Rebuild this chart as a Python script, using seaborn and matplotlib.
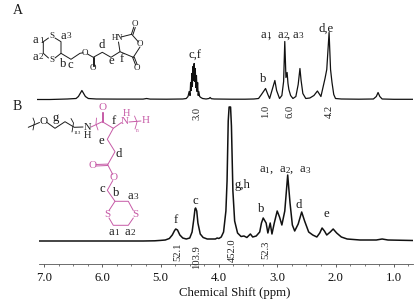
import matplotlib
matplotlib.use("Agg")
import matplotlib.pyplot as plt
from matplotlib.ticker import MultipleLocator, FormatStrFormatter
import seaborn as sns

sns.set_style("white")
plt.rcParams["font.family"] = ["Liberation Serif", "DejaVu Serif"]

# Spectrum A (monomer): chemical shift in ppm, intensity
ppm_a = [7.12, 6.9, 6.6, 6.45, 6.41, 6.38, 6.35, 6.32, 6.29, 6.24, 6.1, 5.75, 5.3, 5.24, 5.18, 4.9, 4.62, 4.56,
         4.53, 4.51, 4.495, 4.485, 4.475, 4.465, 4.455, 4.445, 4.435, 4.425, 4.415, 4.405, 4.395, 4.385, 4.375,
         4.365, 4.355, 4.345, 4.33, 4.31, 4.28, 4.22, 4.17, 4.15, 4.13, 4.08, 3.8, 3.55, 3.4, 3.32, 3.27, 3.2,
         3.16, 3.13, 3.09, 3.07, 3.04, 3.01, 2.96, 2.92, 2.89, 2.87, 2.85, 2.83, 2.815, 2.80, 2.77, 2.73, 2.68,
         2.64, 2.61, 2.59, 2.56, 2.51, 2.44, 2.37, 2.31, 2.25, 2.18, 2.15, 2.11, 2.085, 2.06, 2.03, 2.0, 1.9,
         1.6, 1.35, 1.3, 1.27, 1.24, 1.2, 1.0, 0.67]
int_a = [0, 0, 0.5, 1, 3, 6, 9, 6, 3, 1, 0.5, 0.4, 0.4, 1, 0.4, 0.3, 0.5, 1,
         3, 8, 4, 17, 9, 26, 13, 33, 19, 36, 18, 31, 12, 24, 8, 17, 4, 8, 3, 2, 1, 0.5, 1, 2, 0.8, 0.5, 0.3, 0.3,
         0.5, 1, 5, 11, 5, 1, 9, 13, 19, 9, 1, 4, 18, 58, 22, 27, 16, 10, 4, 1, 3, 15, 31, 19, 6, 1, 1.5, 4, 8.5,
         3, 21, 30, 67, 30, 17, 5, 1, 0.5, 0.3, 0.5, 3, 7, 3, 0.5, 0.2, 0.2]

# Spectrum B (polymer): chemical shift in ppm, intensity
ppm_b = [7.09, 6.0, 5.3, 5.1, 5.0, 4.92, 4.85, 4.80, 4.76, 4.74, 4.71, 4.67, 4.62, 4.56, 4.50, 4.46, 4.43, 4.41,
         4.40, 4.38, 4.36, 4.32, 4.27, 4.2, 4.1, 4.06, 4.03, 4.0, 3.96, 3.92, 3.88, 3.86, 3.84, 3.825, 3.80,
         3.785, 3.76, 3.73, 3.68, 3.62, 3.57, 3.52, 3.46, 3.42, 3.36, 3.30, 3.27, 3.24, 3.22, 3.19, 3.16, 3.12,
         3.09, 3.05, 3.0, 2.96, 2.92, 2.87, 2.82, 2.78, 2.74, 2.70, 2.64, 2.58, 2.53, 2.46, 2.39, 2.32, 2.27,
         2.23, 2.19, 2.15, 2.09, 2.04, 1.98, 1.9, 1.80, 1.58, 1.3, 1.2, 1.1, 0.67]
int_b = [0, 0, 0, 0.2, 0.6, 1, 2.5, 6, 10.5, 12, 11, 6, 3, 2, 3, 9, 22, 32,
         33, 30, 18, 7, 3.5, 2, 2, 2, 3, 2.5, 4, 9, 30, 60, 120, 134, 134,
         115, 50, 20, 8, 4.5, 5, 3.5, 7, 4, 5, 9, 18, 23, 21, 18, 8, 18,
         7, 18, 30, 24, 16, 30, 66, 38, 16, 10, 17, 29, 20, 9, 6, 4, 8,
         13, 10, 6, 9, 12, 8, 4, 2, 1, 1, 2, 1, 0.5]

tick_label_fmt = "%.1f"
x_label = "Chemical Shift (ppm)"
integrals_a = ["3.0", "1.0", "6.0", "4.2"]
integrals_b = ["52.1", "103.9", "452.0", "52.3"]

W, H = 418, 304
fig = plt.figure(figsize=(W / 100, H / 100), dpi=100, facecolor="white")


def axes_px(x0, x1, ytop, ybot):
    return fig.add_axes([x0 / W, 1 - ybot / H, (x1 - x0) / W, (ybot - ytop) / H])


to_ppm = lambda px: 7 - (px - 44) / 58.3

# Panel B with the axis
ax_b = axes_px(39, 413, 104, 264)
sns.lineplot(x=ppm_b, y=int_b, sort=False, estimator=None, color="#111111", linewidth=1.1, ax=ax_b)
ax_b.set_xlim(to_ppm(39), to_ppm(413))
ax_b.set_ylim(-23, 137)
for s in ["left", "right", "top"]:
    ax_b.spines[s].set_visible(False)
ax_b.spines["bottom"].set_color("#555555")
ax_b.spines["bottom"].set_linewidth(0.6)
ax_b.set_yticks([])
ax_b.xaxis.set_major_locator(MultipleLocator(1))
ax_b.xaxis.set_minor_locator(MultipleLocator(0.25))
ax_b.xaxis.set_major_formatter(FormatStrFormatter(tick_label_fmt))
ax_b.tick_params(axis="x", which="major", bottom=True, length=2.4, width=0.6, color="#444444",
                 labelsize=9.2, pad=3.5, labelcolor="#111111")
ax_b.tick_params(axis="x", which="minor", bottom=True, length=1.5, width=0.5, color="#444444")
ax_b.set_xlabel(x_label, fontsize=9.2, labelpad=1.5, color="#111111")
ax_b.xaxis.set_label_coords((235 - 39) / (413 - 39), -(296 - 264) / 160, ax_b.transAxes)
ax_b.xaxis.label.set_va("baseline")
ax_b.patch.set_alpha(0)

# Panel A
ax_a = axes_px(37, 413, 20, 102)
sns.lineplot(x=ppm_a, y=int_a, sort=False, estimator=None, color="#111111", linewidth=0.9, ax=ax_a)
ax_a.set_xlim(to_ppm(37), to_ppm(413))
ax_a.set_ylim(-2.5, 79.5)
ax_a.axis("off")

# Overlay in figure pixels for the labels and the structures
ov = fig.add_axes([0, 0, 1, 1], facecolor="none")
ov.set_xlim(0, W)
ov.set_ylim(H, 0)
ov.axis("off")

BLACK = "#1a1a1a"
PINK = "#c65aa6"


def line(pts, c=BLACK, lw=0.7):
    ov.plot([p[0] for p in pts], [p[1] for p in pts], color=c, lw=lw, solid_capstyle="round",
            solid_joinstyle="round")


def txt(x, y, s, size=9.2, c=BLACK, rot=0):
    ov.text(x, y, s, fontsize=size, color=c, ha="center", va="center", rotation=rot)


def small_idx(x, y, letter, digit, size=9.2):
    ov.text(x, y, letter, fontsize=size, color=BLACK, ha="right", va="center")
    ov.text(x + 0.3, y + 0.6, digit, fontsize=size * 0.72, color=BLACK, ha="left", va="center")


txt(17.7, 11, "A", 10)
txt(17.3, 107, "B", 10)

# Integrals
for (x, y), s in zip([(197, 113), (265.7, 111), (290, 111), (329, 111)], integrals_a):
    txt(x, y, s, 7.6, "#222222", 90)
for (x, y), s in zip([(178, 252), (196.7, 257), (232, 250), (266, 250)], integrals_b):
    txt(x, y, s, 7.6, "#222222", 90)

# Peak labels A
txt(195, 55.5, "c,f")
txt(263, 79, "b")
txt(326, 29, "d,e")
small_idx(266, 35, "a", "1")
ov.text(269, 35, ",", fontsize=9.2, color=BLACK, ha="center", va="center")
small_idx(283, 35, "a", "2")
ov.text(288, 35, ",", fontsize=9.2, color=BLACK, ha="center", va="center")
small_idx(298, 35, "a", "3")

# Peak labels B
txt(175.7, 220, "f")
txt(195.7, 201, "c")
txt(242, 185, "g,h")
txt(260.7, 209, "b")
txt(285.7, 169.5, r"$\mathregular{a_1,\ a_2,\ a_3}$")
txt(299, 204.7, "d")
txt(326, 214, "e")

# Structure A
line([(48.5, 38), (43.3, 41.7), (43.3, 53.3), (48.5, 58)])
line([(55, 58), (61, 53.3), (61, 41.7), (55, 38)])
line([(61, 53.3), (71, 59.3), (80, 53.3), (83, 52.8)])
line([(87.5, 54), (93.3, 57.3), (102.3, 52.3), (111, 57.3), (120, 51.7), (133.3, 57.3)])
line([(92.6, 57.3), (92.6, 65.5)])
line([(94, 57.3), (94, 65.5)])
line([(120, 51.7), (118.5, 42)])
line([(121, 37), (131.7, 34.3), (138.5, 42)])
line([(140, 47), (133.3, 57.3)])
line([(131.5, 34), (133.8, 27)])
line([(133, 34.5), (135.3, 27.5)])
line([(132.6, 57.3), (135.6, 65)])
line([(134.2, 57), (137.2, 64.6)])
txt(51.7, 36, "S", 6.5)
txt(51.7, 60, "S", 6.5)
txt(85, 52.8, "O", 6.5)
txt(93.3, 68.3, "O", 6.5)
txt(117.5, 38.3, "HN", 5.8)
txt(140, 44.3, "O", 6.5)
txt(135, 23.5, "O", 6.5)
txt(136.8, 67.5, "O", 6.5)
small_idx(38.5, 40, "a", "1")
small_idx(38.5, 56.7, "a", "2")
small_idx(66.5, 35.7, "a", "3")
txt(101.7, 45, "d")
txt(111.7, 61, "e")
txt(121.7, 59, "f")
txt(62.7, 64, "b")
txt(70.7, 65, "c")

# Structure B, PEG block
line([(28.3, 127.3), (39.5, 122.5)])
line([(47, 122.5), (55, 128.3), (65, 121.7), (74.3, 127.3), (83, 127)])
line([(33, 118), (34.5, 122), (33, 130)], lw=0.6)
line([(71, 118.5), (73.5, 123), (72, 132)], lw=0.6)
txt(43.3, 121.7, "O", 8)
txt(55.7, 118, "g", 9.2)
txt(77.7, 133, "113", 3.6)
txt(87, 127, "N", 7.5)
txt(87, 135, "H", 7.5)

# Structure B, polypeptide block
line([(91, 127), (102.3, 121.7), (113.3, 128.3), (121.5, 122.5)], PINK)
line([(101.6, 121.7), (101.6, 112)], PINK)
line([(103, 121.7), (103, 112)], PINK)
line([(96.5, 118), (96, 124), (98, 130)], PINK, 0.6)
line([(129, 122), (141, 121)], PINK)
line([(134.5, 116), (137, 122), (135, 129)], PINK, 0.6)
line([(113.3, 128.3), (107.3, 139.3), (115, 151.7), (107.7, 164.7)], PINK)
line([(96, 164.5), (107.7, 164.1)], PINK)
line([(96, 166), (107.7, 165.5)], PINK)
line([(107.7, 164.7), (112.8, 174.5)], PINK)
line([(112.8, 180.5), (107.3, 190.3), (115, 201.3), (128.3, 201.3), (133.3, 210.5)], PINK)
line([(133.3, 218), (128.3, 225.3), (113.3, 225.3), (109, 218)], PINK)
line([(109, 210.5), (115, 201.3)], PINK)
txt(102.3, 107.3, "O", 8, PINK)
txt(125, 121.7, "N", 8, PINK)
txt(126.7, 113, "H", 7.5, PINK)
txt(145.7, 120.7, "H", 8, PINK)
txt(137.7, 130.7, "n", 4, PINK)
txt(92.7, 165.3, "O", 8, PINK)
txt(114, 177.7, "O", 8, PINK)
txt(135, 214.3, "S", 8, PINK)
txt(107.3, 214.3, "S", 8, PINK)
txt(114, 120.7, "f")
txt(101.7, 140.7, "e")
txt(119, 154, "d")
txt(102.3, 188.7, "c")
txt(116, 192.7, "b")
small_idx(133, 196, "a", "3")
small_idx(114, 232, "a", "1")
small_idx(130.5, 232, "a", "2")

fig.savefig("out.png", dpi=100, facecolor="white")
